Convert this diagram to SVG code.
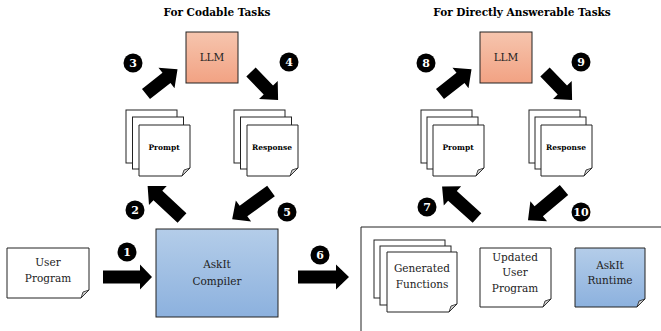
<svg xmlns="http://www.w3.org/2000/svg" width="661" height="331" viewBox="0 0 661 331">
<defs>
<linearGradient id="gRed" x1="0" y1="0" x2="0" y2="1"><stop offset="0" stop-color="#f6c5ae"/><stop offset="1" stop-color="#f2a283"/></linearGradient>
<linearGradient id="gBlue" x1="0" y1="0" x2="0" y2="1"><stop offset="0" stop-color="#b4cde9"/><stop offset="1" stop-color="#8cb1de"/></linearGradient>
</defs>
<style>
text{font-family:"DejaVu Serif","Times New Roman",serif;fill:#222;text-anchor:middle}
.t{font-size:10.5px;font-weight:bold;fill:#000}
.lbl{font-size:10.5px}
.sm{font-size:7.5px;font-weight:bold;fill:#000}
.pg{fill:#fff;stroke:#222;stroke-width:1}
.blue{fill:url(#gBlue);stroke:#222;stroke-width:1}
.red{fill:url(#gRed);stroke:#222;stroke-width:1}
.fold{fill:#ccc;stroke:#222;stroke-width:0.8}
.ar{fill:#000}
.num circle{fill:#000}
.num text{fill:#fff;font-size:11px;font-weight:bold}
</style>
<text class="t" x="217" y="16">For Codable Tasks</text>
<text class="t" x="522" y="16">For Directly Answerable Tasks</text>

<g id="llm1"><rect class="red" x="186" y="32" width="52" height="51"/><text class="lbl" x="212" y="61">LLM</text></g>
<g id="llm2"><rect class="red" x="480" y="32" width="52" height="51"/><text class="lbl" x="506" y="61">LLM</text></g>

<g id="prompt1">
<rect class="pg" x="126" y="110" width="51" height="53"/>
<rect class="pg" x="132.5" y="117" width="51" height="52"/>
<path class="pg" d="M139,125 H190 V168 L182,176 H139 Z"/><path class="fold" d="M182,176 L190,168 L184,170 Z"/>
<text class="sm" x="164" y="150">Prompt</text>
</g>
<g id="response1">
<rect class="pg" x="234" y="110" width="51" height="53"/>
<rect class="pg" x="240.5" y="117" width="51" height="52"/>
<path class="pg" d="M247,125 H298 V168 L290,176 H247 Z"/><path class="fold" d="M290,176 L298,168 L292,170 Z"/>
<text class="sm" x="272" y="150">Response</text>
</g>
<g id="prompt2">
<rect class="pg" x="421" y="110" width="51" height="53"/>
<rect class="pg" x="427" y="117" width="51" height="52"/>
<path class="pg" d="M433,125 H484 V168 L476,176 H433 Z"/><path class="fold" d="M476,176 L484,168 L478,170 Z"/>
<text class="sm" x="458" y="150">Prompt</text>
</g>
<g id="response2">
<rect class="pg" x="529" y="110" width="51" height="53"/>
<rect class="pg" x="535" y="117" width="51" height="52"/>
<path class="pg" d="M541,125 H592 V168 L584,176 H541 Z"/><path class="fold" d="M584,176 L592,168 L586,170 Z"/>
<text class="sm" x="566" y="150">Response</text>
</g>

<g id="userprog">
<path class="pg" d="M7,248 H89 V290 L81,298 H7 Z"/><path class="fold" d="M81,298 L89,290 L83,292 Z"/>
<text class="lbl" x="48" y="266">User</text><text class="lbl" x="48" y="282">Program</text>
</g>
<g id="compiler"><rect class="blue" x="156" y="229" width="122" height="88"/><text class="lbl" x="217" y="268">AskIt</text><text class="lbl" x="217" y="285">Compiler</text></g>

<g id="output">
<path d="M361,331 V227 H661" fill="none" stroke="#222" stroke-width="1"/>
</g>
<g id="genfuncs">
<rect class="pg" x="374" y="240" width="71" height="58"/>
<rect class="pg" x="380" y="246" width="71" height="59"/>
<path class="pg" d="M387,252 H457 V304 L449,312 H387 Z"/><path class="fold" d="M449,312 L457,304 L451,306 Z"/>
<text class="lbl" x="422" y="272">Generated</text><text class="lbl" x="422" y="288">Functions</text>
</g>
<g id="updated">
<path class="pg" d="M480,248 H551 V299 L543,307 H480 Z"/><path class="fold" d="M543,307 L551,299 L545,301 Z"/>
<text class="lbl" x="515" y="261">Updated</text><text class="lbl" x="515" y="276">User</text><text class="lbl" x="515" y="292">Program</text>
</g>
<g id="runtime">
<path class="blue" d="M575,248 H645 V299 L637,307 H575 Z"/><path class="fold" d="M637,307 L645,299 L639,301 Z"/>
<text class="lbl" x="610" y="269">AskIt</text><text class="lbl" x="610" y="284">Runtime</text>
</g>

<g id="connectors">
<polygon class="ar" transform="translate(103,277)" points="0,-6.5 37,-6.5 37,-12.5 49,0 37,12.5 37,6.5 0,6.5"/>
<polygon class="ar" transform="translate(298,277)" points="0,-6.5 38,-6.5 38,-12.5 51,0 38,12.5 38,6.5 0,6.5"/>
<polygon class="ar" transform="translate(182,218) rotate(-137)" points="0,-6.5 33,-6.5 33,-13 47,0 33,13 33,6.5 0,6.5"/>
<polygon class="ar" transform="translate(146,94) rotate(-38)" points="0,-6.5 26,-6.5 26,-13 40,0 26,13 26,6.5 0,6.5"/>
<polygon class="ar" transform="translate(251,72) rotate(46)" points="0,-6.5 25,-6.5 25,-13 39,0 25,13 25,6.5 0,6.5"/>
<polygon class="ar" transform="translate(271,191) rotate(144)" points="0,-6.5 34,-6.5 34,-13 48,0 34,13 34,6.5 0,6.5"/>
<polygon class="ar" transform="translate(477,218) rotate(-138)" points="0,-6.5 33,-6.5 33,-13 47,0 33,13 33,6.5 0,6.5"/>
<polygon class="ar" transform="translate(440,94) rotate(-38)" points="0,-6.5 26,-6.5 26,-13 40,0 26,13 26,6.5 0,6.5"/>
<polygon class="ar" transform="translate(545,72) rotate(46)" points="0,-6.5 25,-6.5 25,-13 39,0 25,13 25,6.5 0,6.5"/>
<polygon class="ar" transform="translate(564,190) rotate(140)" points="0,-6.5 33,-6.5 33,-13 47,0 33,13 33,6.5 0,6.5"/>
</g>

<g id="numbers" class="num">
<circle cx="127" cy="252" r="9.5"/><text x="127" y="256">1</text>
<circle cx="135" cy="210" r="9.5"/><text x="135" y="214">2</text>
<circle cx="133" cy="63" r="9.5"/><text x="133" y="67">3</text>
<circle cx="289" cy="62" r="9.5"/><text x="289" y="66">4</text>
<circle cx="287" cy="212" r="9.5"/><text x="287" y="216">5</text>
<circle cx="320" cy="255" r="9.5"/><text x="320" y="259">6</text>
<circle cx="427" cy="207" r="9.5"/><text x="427" y="211">7</text>
<circle cx="426" cy="63" r="9.5"/><text x="426" y="67">8</text>
<circle cx="581" cy="62" r="9.5"/><text x="581" y="66">9</text>
<circle cx="581" cy="212" r="9.5"/><text x="581" y="216">10</text>
</g>
</svg>
